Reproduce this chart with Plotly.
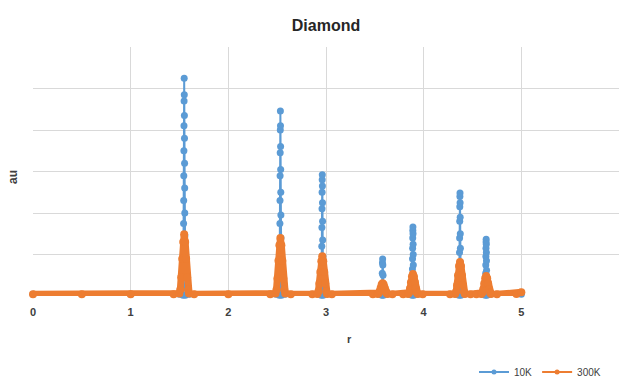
import plotly.graph_objects as go

# ---------------- data ----------------
title_text = "Diamond"
x_title = "r"
y_title = "au"
series_names = ["10K", "300K"]
x_tick_vals = [0, 1, 2, 3, 4, 5, 6]

# 10K series: r values and intensities
r_10k = [
    0.000, 1.000,
    1.500, 1.536, 1.538, 1.539, 1.540, 1.541, 1.542, 1.543, 1.544, 1.545, 1.546, 1.547,
    1.548, 1.549, 1.550, 1.551, 1.552, 1.553, 1.554, 1.555, 1.556, 1.557, 1.558, 1.560, 1.600,
    2.490, 2.522, 2.524, 2.525, 2.526, 2.527, 2.528, 2.529, 2.530, 2.531, 2.532, 2.533,
    2.534, 2.535, 2.536, 2.537, 2.538, 2.539, 2.540, 2.541, 2.542, 2.544, 2.580,
    2.920, 2.952, 2.954, 2.955, 2.956, 2.957, 2.958, 2.959, 2.960, 2.961, 2.962,
    2.963, 2.964, 2.965, 2.966, 2.967, 2.968, 2.969, 2.971, 3.000,
    3.540, 3.572, 3.574, 3.576, 3.578, 3.580, 3.582, 3.584, 3.586, 3.588, 3.620,
    3.850, 3.880, 3.882, 3.884, 3.885, 3.886, 3.887, 3.888, 3.889, 3.890,
    3.891, 3.892, 3.893, 3.894, 3.895, 3.896, 3.898, 3.930,
    4.330, 4.362, 4.364, 4.365, 4.366, 4.367, 4.368, 4.369, 4.370, 4.371, 4.372,
    4.373, 4.374, 4.375, 4.376, 4.377, 4.378, 4.379, 4.381, 4.410,
    4.600, 4.630, 4.632, 4.634, 4.635, 4.636, 4.637, 4.638, 4.639, 4.640,
    4.641, 4.642, 4.643, 4.644, 4.645, 4.646, 4.648, 4.680,
    5.000,
]
y_10k = [
    0.04, 0.04,
    0.04, 0.02, 0.2, 0.45, 0.8, 1.25, 1.75, 2.3, 2.9, 3.5, 4.1, 4.7,
    5.25, 4.85, 4.35, 3.8, 3.2, 2.6, 2.0, 1.45, 0.95, 0.55, 0.25, 0.02, 0.04,
    0.04, 0.02, 0.2, 0.45, 0.8, 1.25, 1.75, 2.3, 2.9, 3.45, 4.0, 4.46,
    4.1, 3.6, 3.05, 2.5, 1.95, 1.4, 0.95, 0.55, 0.25, 0.02, 0.04,
    0.04, 0.02, 0.2, 0.45, 0.8, 1.2, 1.65, 2.1, 2.5, 2.8, 2.92,
    2.65, 2.25, 1.8, 1.35, 0.95, 0.6, 0.3, 0.02, 0.04,
    0.04, 0.02, 0.25, 0.55, 0.8, 0.89, 0.75, 0.5, 0.22, 0.02, 0.04,
    0.04, 0.02, 0.2, 0.45, 0.65, 0.9, 1.15, 1.4, 1.58, 1.66,
    1.5, 1.25, 1.0, 0.75, 0.5, 0.3, 0.02, 0.04,
    0.04, 0.02, 0.2, 0.4, 0.7, 1.05, 1.4, 1.8, 2.15, 2.4, 2.48,
    2.25, 1.9, 1.5, 1.15, 0.8, 0.5, 0.25, 0.02, 0.04,
    0.04, 0.02, 0.18, 0.38, 0.55, 0.75, 0.95, 1.15, 1.3, 1.37,
    1.25, 1.05, 0.85, 0.62, 0.42, 0.25, 0.02, 0.04,
    0.04,
]

# 300K series: r values and intensities
r_300k = [
    0.000, 0.500, 1.000,
    1.440, 1.498, 1.508, 1.518, 1.528, 1.538, 1.548, 1.558, 1.568, 1.578, 1.588, 1.598, 1.650,
    2.000,
    2.430, 2.483, 2.493, 2.503, 2.513, 2.523, 2.533, 2.543, 2.553, 2.563, 2.573, 2.583, 2.640,
    2.860, 2.912, 2.922, 2.932, 2.942, 2.952, 2.962, 2.972, 2.982, 2.992, 3.002, 3.012, 3.060,
    3.480, 3.530, 3.540, 3.550, 3.560, 3.570, 3.580, 3.590, 3.600, 3.610, 3.620, 3.630, 3.680,
    3.790, 3.840, 3.850, 3.860, 3.870, 3.880, 3.890, 3.900, 3.910, 3.920, 3.930, 3.940, 3.990,
    4.270, 4.322, 4.332, 4.342, 4.352, 4.362, 4.372, 4.382, 4.392, 4.402, 4.412, 4.422, 4.480,
    4.540, 4.590, 4.600, 4.610, 4.620, 4.630, 4.640, 4.650, 4.660, 4.670, 4.680, 4.690, 4.750,
    4.950, 5.000,
]
y_300k = [
    0.04, 0.04, 0.04,
    0.04, 0.06, 0.15, 0.45, 0.9, 1.3, 1.49, 1.3, 0.9, 0.45, 0.15, 0.06, 0.04,
    0.04,
    0.04, 0.06, 0.15, 0.42, 0.85, 1.22, 1.40, 1.22, 0.85, 0.42, 0.15, 0.06, 0.04,
    0.04, 0.05, 0.11, 0.3, 0.58, 0.84, 0.96, 0.84, 0.58, 0.3, 0.11, 0.05, 0.04,
    0.04, 0.05, 0.07, 0.12, 0.2, 0.28, 0.31, 0.28, 0.2, 0.12, 0.07, 0.05, 0.04,
    0.04, 0.05, 0.08, 0.18, 0.33, 0.47, 0.53, 0.47, 0.33, 0.18, 0.08, 0.05, 0.04,
    0.04, 0.05, 0.1, 0.26, 0.5, 0.72, 0.82, 0.72, 0.5, 0.26, 0.1, 0.05, 0.04,
    0.04, 0.05, 0.08, 0.16, 0.3, 0.43, 0.48, 0.43, 0.3, 0.16, 0.08, 0.05, 0.04,
    0.05, 0.09,
]

assert len(r_10k) == len(y_10k), (len(r_10k), len(y_10k))
assert len(r_300k) == len(y_300k), (len(r_300k), len(y_300k))

# ---------------- styling ----------------
BLUE = "#5B9BD5"
ORANGE = "#ED7D31"
GRID = "#D9D9D9"
TEXT = "#404040"
FONT = "Liberation Sans, Arial, sans-serif"

fig = go.Figure()

fig.add_trace(go.Scatter(
    x=r_10k, y=y_10k, mode="lines+markers", name=series_names[0],
    line=dict(color=BLUE, width=2),
    marker=dict(color=BLUE, size=7),
    cliponaxis=False, showlegend=False,
))
fig.add_trace(go.Scatter(
    x=r_300k, y=y_300k, mode="lines+markers", name=series_names[1],
    line=dict(color=ORANGE, width=7),
    marker=dict(color=ORANGE, size=8),
    cliponaxis=False, showlegend=False,
))
# legend entries (no marks drawn)
fig.add_trace(go.Scatter(
    x=[None], y=[None], mode="lines+markers", name=series_names[0],
    line=dict(color=BLUE, width=2), marker=dict(color=BLUE, size=5),
))
fig.add_trace(go.Scatter(
    x=[None], y=[None], mode="lines+markers", name=series_names[1],
    line=dict(color=ORANGE, width=2), marker=dict(color=ORANGE, size=5),
))

fig.update_layout(
    width=622, height=381,
    margin=dict(l=33, r=3, t=47, b=85, autoexpand=False),
    paper_bgcolor="white", plot_bgcolor="white",
    font=dict(family=FONT, color=TEXT),
    title=dict(
        text="<b>" + title_text + "</b>",
        x=0.5, xref="paper", y=1 - 25 / 381, yref="container",
        xanchor="center", yanchor="middle",
        font=dict(size=16, color="#262626", family=FONT),
    ),
    xaxis=dict(
        range=[0, 6], tickvals=x_tick_vals, showgrid=True, gridcolor=GRID,
        gridwidth=1, zeroline=False, showline=False, ticks="",
        tickfont=dict(size=11, color="#404040", family=FONT, weight="bold"),
        ticklabelstandoff=8,
    ),
    yaxis=dict(
        range=[0, 6], dtick=1, showgrid=True, gridcolor=GRID, gridwidth=1,
        zeroline=False, showline=False, showticklabels=False, ticks="",
    ),
    legend=dict(
        orientation="h", x=(606 - 33) / 586, xanchor="right",
        y=(296 - 372) / 249, yanchor="middle",
        font=dict(size=10, color="#404040", family=FONT),
        bgcolor="rgba(0,0,0,0)", itemwidth=30, tracegroupgap=0,
    ),
    annotations=[
        dict(text="<b>" + x_title + "</b>", xref="paper", yref="paper",
             x=(349 - 33) / 586, y=(296 - 339) / 249, showarrow=False,
             xanchor="center", yanchor="middle",
             font=dict(size=11, color="#404040", family=FONT)),
        dict(text="<b>" + y_title + "</b>", xref="paper", yref="paper",
             x=(13 - 33) / 586, y=(296 - 177) / 249, showarrow=False,
             textangle=-90, xanchor="center", yanchor="middle",
             font=dict(size=12, color="#404040", family=FONT)),
    ],
)

fig.write_html("out.html")
